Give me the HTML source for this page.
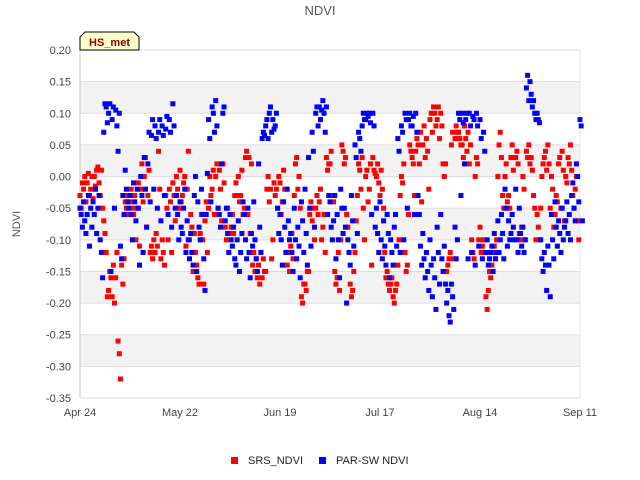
<!DOCTYPE html>
<html><head><meta charset="utf-8"><style>
body{margin:0;background:#fff;}
svg{display:block;font-family:"Liberation Sans","DejaVu Sans",sans-serif;}
</style></head><body>
<svg id="chart" width="640" height="480" viewBox="0 0 640 480">
<text x="320" y="15" text-anchor="middle" font-size="13" fill="#555">NDVI</text>
<g id="bands"></g>
<g id="grid"></g>
<g id="yticks"></g>
<g id="xticks"></g>
<text x="20" y="224" transform="rotate(-90 20 224)" text-anchor="middle" font-size="11" fill="#555">NDVI</text>
<g id="srs"></g>
<g id="par"></g>
<g>
<path d="M80,50 L80,37 L85,32 L134,32 L139,37 L139,50 Z" fill="#ffffcc" stroke="#000" stroke-width="1"/>
<text x="109.5" y="46" text-anchor="middle" font-size="11" font-weight="bold" fill="#8b0000">HS_met</text>
</g>
<g>
<rect x="231" y="457" width="7" height="7" fill="#f00"/>
<text x="248" y="464" font-size="11" fill="#222">SRS_NDVI</text>
<rect x="319" y="457" width="7" height="7" fill="#00f"/>
<text x="336" y="464" font-size="11" fill="#222">PAR-SW NDVI</text>
</g>
</svg>
<script>
const yTickValues=[0.20,0.15,0.10,0.05,0.00,-0.05,-0.10,-0.15,-0.20,-0.25,-0.30,-0.35];
const xTickDays=[0,28,56,84,112,140];
const xTickLabels=["Apr 24","May 22","Jun 19","Jul 17","Aug 14","Sep 11"];
const srsVals=[[-0.03,-0.05,-0.01],[-0.02,0.0,-0.04],[-0.01,0.005,-0.03],[-0.02,0.0,-0.035],[0.0,-0.015,0.01],[0.015,-0.01,-0.03],[0.01,-0.05,-0.07],[-0.09,-0.12,-0.19],[-0.18,-0.15,-0.16],[-0.19,-0.14,-0.2],[-0.16,-0.12,-0.26],[-0.28,-0.32,-0.14],[-0.17,-0.13,-0.04],[-0.05,-0.03,-0.06],[-0.04,-0.02,-0.05],[-0.06,-0.03,-0.1],[-0.05,-0.01,-0.11],[-0.02,0.02,-0.04],[0.0,0.03,-0.08],[-0.03,0.01,-0.12],[-0.11,-0.13,-0.1],[-0.12,-0.09,-0.11],[0.04,-0.02,-0.13],[-0.1,-0.12,-0.14],[-0.03,-0.05,-0.1],[-0.02,-0.04,-0.12],[-0.01,-0.03,-0.07],[0.0,-0.02,-0.05],[0.01,-0.04,-0.03],[-0.01,0.0,-0.11],[-0.02,0.04,-0.1],[-0.06,-0.08,-0.15],[-0.09,-0.12,-0.14],[-0.16,-0.17,-0.09],[-0.06,-0.1,-0.17],[-0.07,-0.04,-0.12],[-0.05,0.0,-0.03],[-0.02,0.01,-0.06],[0.0,0.02,-0.05],[0.01,-0.02,-0.07],[0.02,-0.01,-0.08],[-0.1,-0.05,-0.09],[-0.09,-0.08,-0.06],[-0.09,-0.03,-0.01],[-0.03,0.0,-0.04],[-0.03,0.01,-0.06],[-0.05,0.03,0.04],[-0.06,0.03,-0.09],[0.02,-0.14,-0.12],[-0.15,-0.13,-0.16],[-0.14,-0.17,-0.12],[-0.16,-0.13,-0.15],[-0.15,-0.02,0.0],[-0.04,-0.02,-0.13],[-0.1,-0.01,-0.03],[-0.02,-0.05,0.0],[-0.01,-0.06,-0.04],[0.01,-0.02,-0.12],[-0.14,-0.12,-0.15],[-0.11,-0.09,-0.13],[-0.03,0.02,0.03],[-0.02,0.0,-0.05],[-0.19,-0.2,-0.17],[-0.17,-0.18,-0.15],[-0.15,-0.06,-0.04],[-0.07,-0.05,-0.1],[-0.05,-0.03,-0.06],[-0.04,-0.02,-0.1],[-0.08,-0.06,-0.12],[0.03,0.01,0.02],[0.02,0.04,-0.03],[-0.04,-0.15,-0.17],[-0.16,-0.12,-0.18],[-0.1,0.05,0.04],[0.02,0.03,-0.06],[-0.08,-0.12,-0.17],[-0.19,-0.18,-0.15],[-0.12,-0.07,-0.03],[0.02,0.01,-0.02],[0.03,-0.05,-0.1],[0.0,0.01,-0.04],[-0.02,0.02,-0.14],[0.03,0.01,0.005],[0.0,0.02,-0.01],[-0.03,0.01,-0.02],[-0.05,-0.12,-0.16],[-0.15,-0.17,-0.18],[-0.17,-0.16,-0.19],[-0.2,-0.18,-0.17],[-0.14,-0.1,-0.03],[0.0,-0.01,0.02],[-0.12,-0.15,-0.14],[-0.06,0.05,0.04],[0.03,0.02,-0.03],[0.04,0.06,0.05],[0.02,0.07,-0.04],[0.05,0.08,0.03],[0.06,0.04,-0.02],[0.09,0.1,0.07],[0.11,0.1,0.08],[0.09,0.11,0.06],[0.1,0.08,0.02],[0.0,0.02,-0.15],[-0.14,-0.13,-0.12],[0.05,0.07,-0.13],[0.06,0.08,0.07],[0.07,0.06,0.05],[0.05,0.03,0.08],[0.06,0.04,0.07],[0.02,0.05,-0.1],[-0.12,-0.13,0.0],[0.03,0.02,-0.1],[-0.08,-0.12,-0.11],[-0.1,-0.12,-0.19],[-0.21,-0.18,-0.15],[-0.16,-0.14,-0.12],[-0.11,-0.13,-0.1],[0.0,0.05,0.07],[0.03,-0.03,-0.05],[0.0,0.02,-0.04],[-0.03,-0.05,0.03],[0.05,0.01,0.03],[0.03,0.04,0.02],[-0.09,-0.1,-0.08],[0.0,-0.02,-0.1],[0.04,0.03,0.05],[0.02,0.03,0.01],[-0.03,-0.05,-0.1],[-0.06,-0.08,-0.1],[-0.05,0.0,0.02],[0.03,0.04,0.01],[0.05,0.02,-0.05],[0.0,-0.02,-0.08],[-0.06,-0.03,-0.04],[0.02,0.03,-0.05],[0.04,0.01,-0.07],[0.0,-0.01,0.03],[0.02,0.05,0.01],[-0.03,-0.05,-0.02],[0.0,-0.07,-0.1]];
const parVals=[[-0.05,-0.06,-0.08],[-0.04,-0.07,-0.09],[-0.06,-0.03,-0.11],[-0.05,-0.08,-0.04],[-0.06,-0.02,-0.09],[-0.05,-0.03,-0.1],[-0.12,-0.16,0.07],[0.115,0.11,0.085],[0.1,0.115,-0.15],[0.09,0.11,-0.05],[0.105,0.08,0.04],[0.1,-0.11,-0.13],[-0.03,-0.06,0.01],[-0.02,-0.04,-0.05],[-0.03,-0.06,-0.1],[-0.01,-0.04,-0.07],[-0.02,-0.05,-0.14],[0.0,-0.03,-0.12],[0.03,-0.02,-0.08],[0.02,0.07,-0.04],[0.065,0.09,-0.02],[0.08,0.06,-0.05],[0.07,0.09,-0.07],[0.08,0.065,-0.03],[0.075,0.095,-0.06],[0.09,0.07,-0.08],[0.115,0.08,-0.05],[-0.03,-0.06,-0.1],[-0.04,-0.08,-0.09],[-0.05,-0.02,-0.12],[-0.07,-0.1,-0.13],[-0.09,-0.12,-0.14],[-0.03,0.0,-0.15],[-0.04,-0.08,-0.1],[-0.02,-0.06,-0.13],[-0.18,-0.06,0.005],[0.09,0.06,-0.04],[0.11,0.1,0.07],[0.12,0.08,-0.05],[-0.06,-0.08,0.02],[0.1,0.11,-0.07],[-0.05,-0.09,-0.12],[-0.06,-0.1,-0.11],[-0.08,-0.13,-0.14],[-0.1,-0.07,-0.15],[-0.12,-0.09,-0.04],[-0.06,-0.1,-0.13],[-0.05,-0.12,-0.16],[-0.09,-0.11,-0.04],[-0.1,-0.13,-0.15],[0.02,-0.08,-0.12],[0.06,0.07,0.065],[0.08,0.09,0.06],[0.1,0.11,0.07],[0.09,0.075,0.08],[0.1,-0.05,-0.09],[-0.06,-0.1,-0.14],[-0.04,-0.08,-0.12],[-0.02,-0.07,-0.1],[-0.09,-0.12,-0.15],[-0.05,-0.1,-0.13],[-0.08,-0.11,-0.16],[-0.04,-0.07,-0.12],[-0.02,-0.09,-0.14],[0.03,-0.05,-0.11],[0.07,0.04,-0.08],[0.1,0.11,0.08],[0.11,0.09,0.105],[0.12,0.1,0.07],[0.11,-0.06,-0.03],[-0.04,-0.08,-0.1],[-0.07,-0.03,-0.13],[-0.06,-0.1,-0.16],[-0.02,-0.05,-0.09],[-0.05,-0.08,-0.2],[-0.1,-0.12,-0.14],[-0.03,-0.07,-0.11],[0.05,0.03,-0.09],[0.07,0.06,0.04],[0.08,0.1,0.09],[0.09,0.1,0.095],[0.1,0.085,-0.06],[0.1,0.08,-0.08],[-0.05,-0.09,-0.12],[-0.04,-0.1,-0.13],[-0.07,-0.11,-0.14],[-0.06,-0.09,-0.16],[-0.1,-0.12,-0.14],[-0.08,-0.06,-0.11],[0.06,0.04,-0.12],[0.08,0.07,-0.1],[0.1,0.09,-0.05],[0.09,0.1,0.08],[0.08,0.095,-0.06],[0.1,0.07,-0.03],[-0.06,-0.11,-0.14],[-0.09,-0.13,-0.16],[-0.12,-0.15,-0.18],[-0.1,-0.14,-0.19],[-0.13,-0.16,-0.21],[-0.08,-0.12,-0.17],[-0.06,-0.13,-0.15],[-0.11,-0.17,-0.2],[-0.18,-0.22,-0.23],[-0.17,-0.19,-0.21],[-0.08,-0.13,-0.1],[0.1,0.09,-0.03],[0.1,0.085,0.02],[0.09,0.1,-0.13],[0.1,0.08,-0.12],[0.095,0.09,-0.14],[0.1,0.08,-0.11],[0.09,0.06,-0.13],[0.07,0.04,-0.12],[-0.1,-0.14,-0.13],[-0.12,-0.11,-0.15],[-0.09,-0.13,-0.12],[-0.07,-0.12,-0.1],[-0.06,-0.09,-0.13],[-0.02,-0.05,-0.11],[-0.07,-0.1,-0.09],[-0.06,-0.08,-0.1],[-0.02,-0.1,-0.12],[-0.05,-0.09,-0.11],[-0.08,-0.12,-0.1],[0.14,0.16,0.12],[0.15,0.13,0.11],[0.12,0.1,0.09],[0.1,0.09,0.085],[-0.1,-0.13,-0.15],[-0.12,-0.14,-0.18],[-0.11,-0.14,-0.19],[-0.06,-0.1,-0.13],[-0.04,-0.08,-0.11],[-0.07,-0.09,-0.12],[-0.05,-0.1,-0.08],[-0.07,-0.04,-0.09],[-0.06,-0.1,-0.03],[-0.01,-0.05,-0.07],[0.02,0.0,-0.04],[0.09,0.08,-0.07]];
const X0=80,X1=580,Y0=50,Y1=398,YMAX=0.20,YMIN=-0.35,DAYS=140;
function xs(d){return X0+(d/DAYS)*(X1-X0);}
function ys(v){return Y0+(YMAX-v)/(YMAX-YMIN)*(Y1-Y0);}
const NS="http://www.w3.org/2000/svg";
function mk(tag,attrs,parent){const e=document.createElementNS(NS,tag);for(const k in attrs)e.setAttribute(k,attrs[k]);parent.appendChild(e);return e;}
const bands=document.getElementById('bands'),grid=document.getElementById('grid'),yt=document.getElementById('yticks'),xt=document.getElementById('xticks');
mk('rect',{x:X0,y:Y0,width:X1-X0,height:Y1-Y0,fill:'#fff'},bands);
for(let i=0;i<yTickValues.length-1;i++){
  if(i%2===1){
    const r=mk('rect',{x:X0,y:ys(yTickValues[i]),width:X1-X0,height:ys(yTickValues[i+1])-ys(yTickValues[i]),fill:'#f2f2f2'},bands);
    
    
  }
}
yTickValues.forEach(v=>{
  const l=mk('line',{x1:X0,x2:X1,y1:ys(v),y2:ys(v),stroke:'#ddd','stroke-width':1},grid);
  
  
  const t=mk('text',{x:X0-9,y:ys(v)+4,'text-anchor':'end','font-size':11,fill:'#444'},yt);
  
  
  t.textContent=v.toFixed(2);
});
mk('line',{x1:X0,x2:X0,y1:Y0,y2:Y1,stroke:'#ccc'},grid);
mk('line',{x1:X1,x2:X1,y1:Y0,y2:Y1,stroke:'#e4e4e4'},grid);
xTickDays.forEach((d,i)=>{
  const t=mk('text',{x:xs(d),y:416,'text-anchor':'middle','font-size':11,fill:'#444'},xt);
  
  
  t.textContent=xTickLabels[i];
});
function drawSeries(vals,color,gid,name){
  const g=document.getElementById(gid);
  vals.forEach((arr,d)=>{arr.forEach((v,k)=>{
    const r=mk('rect',{x:xs(d+k*0.33)-2.5,y:ys(v)-2.5,width:5,height:5,fill:color},g);
    
    
  });});
}
drawSeries(srsVals,'#f00','srs','srs-ndvi-point');
drawSeries(parVals,'#00f','par','par-sw-ndvi-point');
</script>
</body></html>
